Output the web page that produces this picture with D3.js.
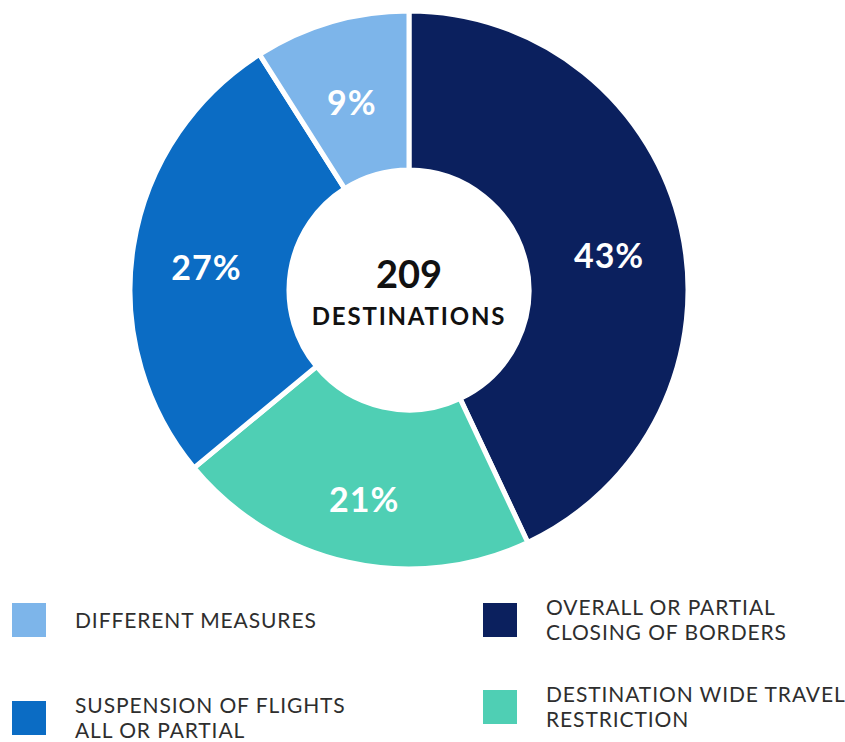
<!DOCTYPE html>
<html>
<head>
<meta charset="utf-8">
<script src="https://cdn.jsdelivr.net/npm/d3@7"></script>
<style>
  html, body {
    margin: 0;
    padding: 0;
    background: #ffffff;
  }

  #chart {
    display: block;
    font-family: Lato, "Open Sans", sans-serif;
  }

  .slice {
    stroke: #ffffff;
    stroke-width: 5px;
  }

  .pct {
    fill: #ffffff;
    font-weight: 700;
    font-size: 34px;
    letter-spacing: 1px;
    text-anchor: middle;
  }

  .legend-text {
    fill: #2e2e2e;
    font-size: 21px;
    font-weight: 400;
    letter-spacing: 0.9px;
  }
</style>
</head>
<body>
<svg id="chart" width="845" height="742"></svg>
<script>
// data
const categories = [
  "Overall or partial closing of borders",
  "Destination wide travel restriction",
  "Suspension of flights all or partial",
  "Different measures"
];
const shares = [43, 21, 27, 9];
const colors = ["#0b205e", "#4fcfb4", "#0b6cc4", "#7db5ea"];
const legendLines = [
  ["OVERALL OR PARTIAL", "CLOSING OF BORDERS"],
  ["DESTINATION WIDE TRAVEL", "RESTRICTION"],
  ["SUSPENSION OF FLIGHTS", "ALL OR PARTIAL"],
  ["DIFFERENT MEASURES"]
];
const totalLabel = "209";
const totalCaption = "DESTINATIONS";

// layout
const cx = 409;
const cy = 290;
const outerR = 279;
const innerR = 120;
const labelR = 205;
const labelShift = 10;
const legendCol = [1, 1, 0, 0];
const legendRow = [0, 1, 1, 0];
const colX = [12, 483];
const rowCenters = [[620, 718], [620, 707]];
const box = 34;
const lineGap = 25;

const svg = d3.select("#chart");

const pie = d3.pie().sort(null).value((d) => d);
const arcs = pie(shares);

const arc = d3.arc().innerRadius(innerR).outerRadius(outerR);
const labelArc = d3.arc().innerRadius(labelR).outerRadius(labelR);

const g = svg.append("g").attr("transform", `translate(${cx},${cy})`);

//=== slices ===
g.selectAll("path.slice")
  .data(arcs)
  .join("path")
  .attr("class", "slice")
  .attr("fill", (d, i) => colors[i])
  .attr("d", arc);

//=== percent labels ===
g.selectAll("text.pct")
  .data(arcs)
  .join("text")
  .attr("class", "pct")
  .attr("transform", (d) => {
    const [x, y] = labelArc.centroid(d);
    return `translate(${x},${y + labelShift})`;
  })
  .attr("dy", "0.36em")
  .text((d) => `${d.data}%`);

//=== center ===
g.append("text")
  .attr("text-anchor", "middle")
  .attr("y", -2)
  .style("font-size", "38px")
  .style("font-weight", 700)
  .style("fill", "#111")
  .text(totalLabel);

g.append("text")
  .attr("text-anchor", "middle")
  .attr("y", 35)
  .style("font-size", "24px")
  .style("font-weight", 700)
  .style("letter-spacing", "1.8px")
  .style("fill", "#111")
  .text(totalCaption);

//=== legend ===
const legend = svg
  .selectAll("g.legend-item")
  .data(categories)
  .join("g")
  .attr("class", "legend-item")
  .attr("transform", (d, i) => {
    const c = legendCol[i];
    return `translate(${colX[c]},${rowCenters[c][legendRow[i]]})`;
  });

legend
  .append("rect")
  .attr("x", 0)
  .attr("y", -box / 2)
  .attr("width", box)
  .attr("height", box)
  .attr("fill", (d, i) => colors[i]);

legend.each(function (d, i) {
  const lines = legendLines[i];
  const t = d3
    .select(this)
    .append("text")
    .attr("class", "legend-text")
    .attr("x", box + 29);
  const first = -((lines.length - 1) * lineGap) / 2;
  lines.forEach((line, k) => {
    t.append("tspan")
      .attr("x", box + 29)
      .attr("y", first + k * lineGap)
      .attr("dy", "0.36em")
      .text(line);
  });
});
</script>
</body>
</html>
